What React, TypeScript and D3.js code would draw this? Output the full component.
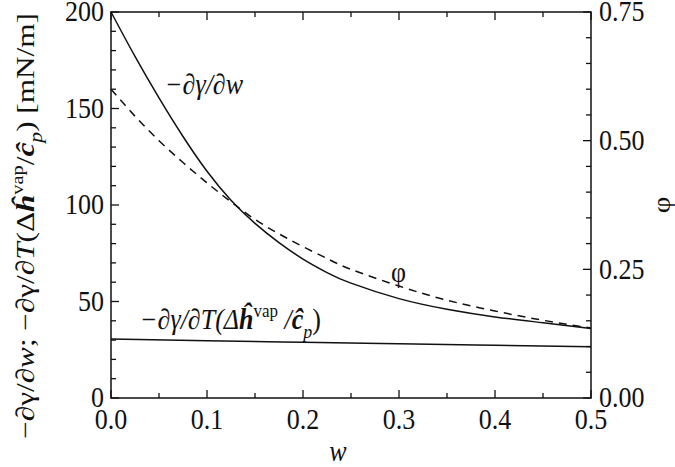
import React, { useEffect, useRef } from 'react';
import * as d3 from 'd3';

// w grid for the two upper curves
const wGrid = [0, 0.025, 0.05, 0.075, 0.1, 0.125, 0.15, 0.175, 0.2, 0.225, 0.25, 0.3, 0.35, 0.4, 0.45, 0.5];
// -dgamma/dw [mN/m]
const dGammaDw = [200, 177, 155.5, 135.5, 117.5, 102.5, 90.5, 80.5, 72, 65, 59.5, 51.5, 46, 42, 39, 36];
// phi (right axis)
const phi = [0.6, 0.5475, 0.5, 0.4575, 0.418, 0.381, 0.347, 0.319, 0.294, 0.271, 0.25, 0.2175, 0.19, 0.169, 0.151, 0.136];
// -dgamma/dT (dh/cp) [mN/m]
const wT = [0, 0.1, 0.2, 0.3, 0.4, 0.5];
const dGammaDT = [30.6, 29.7, 28.9, 28.1, 27.3, 26.5];

const xTicks = ['0.0', '0.1', '0.2', '0.3', '0.4', '0.5'];
const yTicks = ['0', '50', '100', '150', '200'];
const phiTicks = ['0.00', '0.25', '0.50', '0.75'];

const FONT = '"Liberation Serif", "Times New Roman", serif';

const App = () => {
  const ref = useRef<SVGSVGElement>(null);

  useEffect(() => {
    const svg = d3.select(ref.current);
    svg.selectAll('*').remove();

    const left = 111, right = 591, top = 12, bottom = 398;
    const x = d3.scaleLinear().domain([0, 0.5]).range([left, right]);
    const y = d3.scaleLinear().domain([0, 200]).range([bottom, top]);
    const yR = d3.scaleLinear().domain([0, 0.75]).range([bottom, top]);

    const g = svg.append('g').attr('font-family', FONT).attr('fill', '#111');

    // frame
    g.append('rect')
      .attr('x', left).attr('y', top)
      .attr('width', right - left).attr('height', bottom - top)
      .attr('fill', 'none').attr('stroke', '#111').attr('stroke-width', 1.5);

    const tick = (x1: number, y1: number, x2: number, y2: number) =>
      g.append('line')
        .attr('x1', x1).attr('y1', y1).attr('x2', x2).attr('y2', y2)
        .attr('stroke', '#111').attr('stroke-width', 1.3);

    // x ticks, bottom and top
    d3.range(0, 0.5001, 0.05).forEach((v, i) => {
      const len = i % 2 === 0 ? 8 : 5;
      tick(x(v), bottom, x(v), bottom - len);
      tick(x(v), top, x(v), top + len);
    });
    // left ticks
    d3.range(0, 200.1, 10).forEach((v, i) => {
      const len = i % 5 === 0 ? 8 : 5;
      tick(left, y(v), left + len, y(v));
    });
    // right ticks
    d3.range(0, 0.7501, 0.05).forEach((v, i) => {
      const len = i % 5 === 0 ? 8 : 5;
      tick(right, yR(v), right - len, yR(v));
    });

    // labels in the source are a bit taller than wide
    const label = (tx: number, ty: number, anchor: string, t: string) =>
      g.append('text')
        .attr('transform', `translate(${tx},${ty}) scale(1,1.1)`)
        .attr('dy', '0.33em')
        .attr('text-anchor', anchor).attr('font-size', 26).text(t);

    xTicks.forEach(t => label(x(+t), 420, 'middle', t));
    yTicks.forEach(t => label(104, y(+t), 'end', t));
    phiTicks.forEach(t => label(599, yR(+t), 'start', t));

    // curves
    const lineL = d3.line<[number, number]>()
      .x(d => x(d[0])).y(d => y(d[1])).curve(d3.curveNatural);
    const lineR = d3.line<[number, number]>()
      .x(d => x(d[0])).y(d => yR(d[1])).curve(d3.curveNatural);

    g.append('path')
      .attr('d', lineL(wGrid.map((w, i) => [w, dGammaDw[i]] as [number, number])))
      .attr('fill', 'none').attr('stroke', '#111').attr('stroke-width', 1.5);
    g.append('path')
      .attr('d', lineR(wGrid.map((w, i) => [w, phi[i]] as [number, number])))
      .attr('fill', 'none').attr('stroke', '#111').attr('stroke-width', 1.5)
      .attr('stroke-dasharray', '8,6');
    g.append('path')
      .attr('d', lineL(wT.map((w, i) => [w, dGammaDT[i]] as [number, number])))
      .attr('fill', 'none').attr('stroke', '#111').attr('stroke-width', 1.5);

    // curve labels
    g.append('text').attr('transform', 'translate(165,94) scale(1,1.1)').attr('font-size', 26)
      .attr('font-style', 'italic').text('−∂γ/∂w');
    g.append('text').attr('transform', 'translate(391,282) scale(1,1.1)').attr('font-size', 26).text('φ');

    const lab = g.append('text').attr('transform', 'translate(140,329) scale(1,1.1)')
      .attr('font-size', 26).attr('font-style', 'italic');
    lab.append('tspan').text('−∂γ/∂T(Δ');
    lab.append('tspan').attr('font-weight', 'bold').text('ĥ');
    lab.append('tspan').attr('font-size', 17).attr('font-style', 'normal').attr('dy', -11).text('vap');
    lab.append('tspan').attr('dy', 11).text(' /');
    lab.append('tspan').attr('font-weight', 'bold').text('ĉ');
    lab.append('tspan').attr('font-size', 18).attr('dy', 8).text('p');
    lab.append('tspan').attr('dy', -8).attr('font-style', 'normal').text(')');

    // axis titles
    g.append('text').attr('transform', 'translate(338,461) scale(1,1.1)').attr('text-anchor', 'middle')
      .attr('font-size', 26).attr('font-style', 'italic').text('w');

    g.append('text').attr('transform', 'translate(670,205) rotate(-90) scale(1.1,1)')
      .attr('text-anchor', 'middle').attr('font-size', 26).text('φ');

    const yl = g.append('text').attr('transform', 'translate(34,226) rotate(-90) scale(1.2,1)')
      .attr('text-anchor', 'middle').attr('font-size', 26);
    yl.append('tspan').text('−∂γ/∂');
    yl.append('tspan').attr('font-style', 'italic').text('w');
    yl.append('tspan').text('; −∂γ/∂');
    yl.append('tspan').attr('font-style', 'italic').text('T');
    yl.append('tspan').text('(Δ');
    yl.append('tspan').attr('font-style', 'italic').attr('font-weight', 'bold').text('ĥ');
    yl.append('tspan').attr('font-size', 17).attr('dy', -11).text('vap');
    yl.append('tspan').attr('dy', 11).text('/');
    yl.append('tspan').attr('font-style', 'italic').attr('font-weight', 'bold').text('ĉ');
    yl.append('tspan').attr('font-size', 18).attr('font-style', 'italic').attr('dy', 8).text('p');
    yl.append('tspan').attr('dy', -8).text(') [mN/m]');
  }, []);

  return (
    <svg ref={ref} width={675} height={467}
      style={{ position: 'absolute', left: 0, top: 0, background: '#fff' }} />
  );
};

export default App;
